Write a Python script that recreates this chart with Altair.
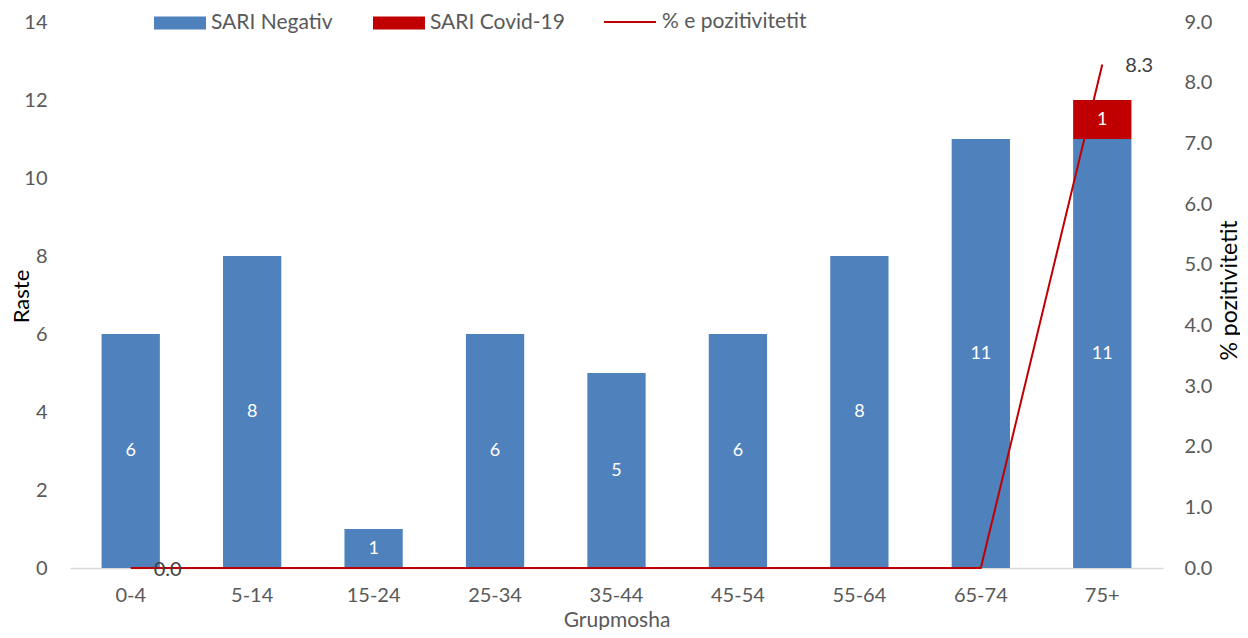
import altair as alt
import pandas as pd

ages = ["0-4", "5-14", "15-24", "25-34", "35-44", "45-54", "55-64", "65-74", "75+"]
sari_negativ = [6, 8, 1, 6, 5, 6, 8, 11, 11]
sari_covid = [0, 0, 0, 0, 0, 0, 0, 0, 1]
pct_pozitivitetit = [0.0, 0.0, 0.0, 0.0, 0.0, 0.0, 0.0, 0.0, 8.3]
labelled_points = ["0-4", "75+"]

series_names = ["SARI Negativ", "SARI Covid-19"]
series_colors = ["#4F81BD", "#C00000"]
line_name = "% e pozitivitetit"

df = pd.DataFrame({
    "age": ages,
    "neg": sari_negativ,
    "cov": sari_covid,
    "pct": pct_pozitivitetit,
})

FONT = "Lato"
GREY = "#595959"

x_enc = alt.X("age:N", sort=ages, title="Grupmosha",
              scale=alt.Scale(paddingInner=0.52, paddingOuter=0.26),
              axis=alt.Axis(labelAngle=0, ticks=False, labelPadding=17,
                            domainColor="#D9D9D9", domainWidth=1.5,
                            labelFontSize=20, labelColor=GREY,
                            titleFontSize=21, titleColor=GREY,
                            titleFontWeight="normal", titleY=58,
                            titleBaseline="alphabetic"))

left_scale = alt.Scale(domain=[0, 14])
right_scale = alt.Scale(domain=[0, 9])

base = alt.Chart(df)

bars = base.transform_fold(["neg", "cov"], as_=["key", "val"]).transform_calculate(
    series="datum.key == 'neg' ? 'SARI Negativ' : 'SARI Covid-19'",
    ord="datum.key == 'neg' ? 0 : 1",
).mark_bar().encode(
    x=x_enc,
    y=alt.Y("sum(val):Q", scale=left_scale, title="Raste",
            axis=alt.Axis(values=list(range(0, 15, 2)), ticks=False, domain=False,
                          grid=False, labelPadding=23, labelFontSize=20,
                          labelColor=GREY, titleFontSize=22, titleColor="black",
                          titleFontWeight="normal", titleAngle=270,
                          titleX=-49, titleY=274, titleBaseline="middle",
                          titleAlign="center")),
    fill=alt.Fill("series:N", scale=alt.Scale(domain=series_names, range=series_colors),
                  legend=alt.Legend(title=None, orient="none", direction="horizontal",
                                    legendX=84, legendY=-25,
                                    symbolType="M-1,-0.25H1V0.25H-1Z",
                                    symbolSize=2704, symbolStrokeWidth=0,
                                    labelFontSize=21, labelColor=GREY, labelFont=FONT,
                                    labelOffset=5, columnPadding=40)),
    order=alt.Order("ord:Q"),
)

neg_text = base.transform_calculate(mid="datum.neg / 2").mark_text(
    color="white", fontSize=18, font=FONT, baseline="middle"
).encode(x=alt.X("age:N", sort=ages), y=alt.Y("mid:Q", scale=left_scale),
         text=alt.Text("neg:Q"))

cov_text = base.transform_filter("datum.cov > 0").transform_calculate(
    mid="datum.neg + datum.cov / 2"
).mark_text(color="white", fontSize=18, font=FONT, baseline="middle").encode(
    x=alt.X("age:N", sort=ages), y=alt.Y("mid:Q", scale=left_scale),
    text=alt.Text("cov:Q"))

line = base.transform_calculate(name="'% e pozitivitetit'").mark_line(strokeWidth=2).encode(
    x=alt.X("age:N", sort=ages),
    y=alt.Y("pct:Q", scale=right_scale, title="% pozitivitetit",
            axis=alt.Axis(orient="right", values=list(range(0, 10)), format=".1f",
                          ticks=False, domain=False, grid=False, labelPadding=21,
                          labelFontSize=20, labelColor=GREY, titleFontSize=23,
                          titleColor="black", titleFontWeight="normal",
                          titleAngle=270, titleX=66, titleY=268,
                          titleBaseline="middle", titleAlign="center")),
    stroke=alt.Stroke("name:N", scale=alt.Scale(domain=[line_name], range=["#C00000"]),
                      legend=alt.Legend(title=None, orient="none", legendX=533, legendY=-27,
                                        symbolType="stroke", symbolSize=2704,
                                        symbolStrokeWidth=2,
                                        labelFontSize=21, labelColor=GREY, labelFont=FONT,
                                        labelOffset=5)),
)

line_text = base.transform_filter(
    alt.FieldOneOfPredicate(field="age", oneOf=labelled_points)
).mark_text(align="left", baseline="middle", dx=23, dy=2, fontSize=20,
            font=FONT, color="#404040").encode(
    x=alt.X("age:N", sort=ages), y=alt.Y("pct:Q", scale=right_scale),
    text=alt.Text("pct:Q", format=".1f"))

chart = alt.layer(
    alt.layer(bars, neg_text, cov_text),
    alt.layer(line, line_text),
).resolve_scale(y="independent", fill="independent", stroke="independent").properties(
    width=1093, height=546,
    padding={"left": 62, "top": 14, "right": 77, "bottom": 62},
    autosize=alt.AutoSizeParams(type="none"),
).configure(font=FONT).configure_view(strokeWidth=0, stroke="transparent")

chart.save("out.html", embed_options={"renderer": "svg", "actions": False})
